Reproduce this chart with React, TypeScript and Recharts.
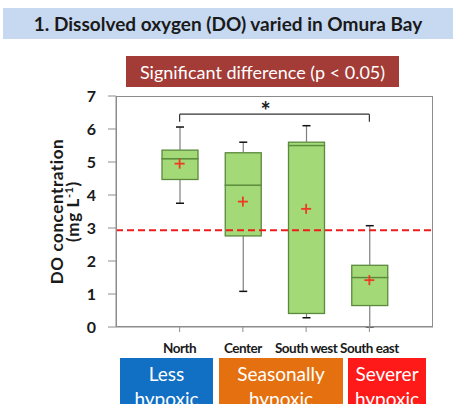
import React from 'react';
import { ComposedChart, Bar, Scatter, XAxis, YAxis, ReferenceLine } from 'recharts';

const sites = ['North', 'Center', 'South west', 'South east'];
const whiskerLow = [3.75, 1.08, 0.28, 0];
const q1 = [4.47, 2.76, 0.41, 0.65];
const median = [5.1, 4.3, 5.5, 1.5];
const q3 = [5.36, 5.28, 5.6, 1.87];
const whiskerHigh = [6.06, 5.6, 6.1, 3.07];
const means = [4.95, 3.8, 3.58, 1.42];
const yTicks = [0, 1, 2, 3, 4, 5, 6, 7];
const threshold = 2.93;
const bracketY = 6.45;
const bracketDrop = 6.22;
const zoneLabels = [['Less', 'hypoxic'], ['Seasonally', 'hypoxic'], ['Severer', 'hypoxic']];

const data = sites.map((name, i) => ({
  name,
  base: whiskerLow[i],
  lowW: q1[i] - whiskerLow[i],
  lowBox: median[i] - q1[i],
  highBox: q3[i] - median[i],
  highW: whiskerHigh[i] - q3[i],
  mean: means[i],
}));

const FONT = 'Lato, "Open Sans", sans-serif';
const BOX_FILL = '#a3d977';
const BOX_STROKE = '#5b8a3c';

const Whisker = (props: any) => {
  const { x, y, width, height, end } = props;
  const cx = x + width / 2;
  const capY = end === 'bottom' ? y + height : y;
  return (
    <g>
      <line x1={cx} x2={cx} y1={y} y2={y + height} stroke="#7f7f7f" strokeWidth={1.2} />
      <line x1={cx - 4} x2={cx + 4} y1={capY} y2={capY} stroke="#111" strokeWidth={1.5} />
    </g>
  );
};

const BoxPart = (props: any) => {
  const { x, y, width, height } = props;
  return <rect x={x} y={y} width={width} height={height} fill={BOX_FILL} stroke={BOX_STROKE} strokeWidth={1.3} />;
};

const MeanMark = (props: any) => {
  const { cx, cy } = props;
  return (
    <g stroke="#ee3b24" strokeWidth={1.8}>
      <line x1={cx - 5} x2={cx + 5} y1={cy} y2={cy} />
      <line x1={cx} x2={cx} y1={cy - 5} y2={cy + 5} />
    </g>
  );
};

const YLabel = (props: any) => {
  const vb = props.viewBox || { y: 96, height: 231 };
  const cy = vb.y + vb.height / 2;
  return (
    <g fontFamily={FONT} fontWeight={700} fontSize={17} fill="#1a1a1a" textAnchor="middle" letterSpacing={0.6}>
      <text x={63} y={cy} transform={`rotate(-90 63 ${cy})`}>DO concentration</text>
      <text x={79} y={cy} transform={`rotate(-90 79 ${cy})`}>
        (mg L<tspan dy={-6} fontSize={11}>-1</tspan><tspan dy={6}>)</tspan>
      </text>
    </g>
  );
};

const Star = (props: any) => {
  const vb = props.viewBox || { x: 0, y: 0, width: 0 };
  return (
    <text x={vb.x + vb.width / 2 - 9} y={vb.y + 6} textAnchor="middle" fontFamily={FONT} fontWeight={700} fontSize={24} fill="#222">
      *
    </text>
  );
};

const zoneBoxes = [
  { left: 120, width: 93, color: '#1170c4' },
  { left: 219, width: 124, color: '#e5700f' },
  { left: 348, width: 78, color: '#ff1a1a' },
];

export default function App() {
  return (
    <div style={{ position: 'absolute', left: 0, top: 0, width: 453, height: 404, overflow: 'hidden', background: '#fff', fontFamily: FONT }}>
      <div style={{ position: 'absolute', left: 3, top: 8, width: 450, height: 31, background: '#c6d9f1', display: 'flex', alignItems: 'center', justifyContent: 'center', fontWeight: 700, fontSize: 19, color: '#1a1a1a' }}>
        1. Dissolved oxygen (DO) varied in Omura Bay
      </div>
      <div style={{ position: 'absolute', left: 126, top: 56, width: 273, height: 31, background: '#a33b36', display: 'flex', alignItems: 'center', justifyContent: 'center', fontSize: 18, color: '#fff' }}>
        Significant difference (p &lt; 0.05)
      </div>
      <div style={{ position: 'absolute', left: 0, top: 0 }}>
        <ComposedChart width={453} height={404} data={data} margin={{ top: 96, right: 20, bottom: 47, left: 0 }} barSize={36} barGap={0}>
          <XAxis
            dataKey="name"
            type="category"
            padding={{ left: 32, right: 32 }}
            height={30}
            stroke="#8c8c8c"
            tickSize={5}
            tickMargin={11}
            interval={0}
            tick={{ fontFamily: FONT, fontWeight: 700, fontSize: 13.5, fill: '#1a1a1a', letterSpacing: -0.5 }}
          />
          <YAxis
            domain={[0, 7]}
            ticks={yTicks}
            width={116}
            stroke="#8c8c8c"
            tickSize={8}
            tickMargin={12}
            tick={{ fontFamily: FONT, fontWeight: 700, fontSize: 16, fill: '#1a1a1a' }}
            label={<YLabel />}
          />
          <Bar dataKey="base" stackId="box" fill="none" isAnimationActive={false} />
          <Bar dataKey="lowW" stackId="box" isAnimationActive={false} shape={(p: any) => <Whisker {...p} end="bottom" />} />
          <Bar dataKey="lowBox" stackId="box" isAnimationActive={false} shape={(p: any) => <BoxPart {...p} />} />
          <Bar dataKey="highBox" stackId="box" isAnimationActive={false} shape={(p: any) => <BoxPart {...p} />} />
          <Bar dataKey="highW" stackId="box" isAnimationActive={false} shape={(p: any) => <Whisker {...p} end="top" />} />
          <ReferenceLine y={threshold} stroke="#ee1c1c" strokeWidth={2} strokeDasharray="7 4" />
          <ReferenceLine segment={[{ x: 'North', y: bracketY }, { x: 'South east', y: bracketY }]} stroke="#333" strokeWidth={1.2} label={<Star />} />
          <ReferenceLine segment={[{ x: 'North', y: bracketY }, { x: 'North', y: bracketDrop }]} stroke="#333" strokeWidth={1.2} />
          <ReferenceLine segment={[{ x: 'South east', y: bracketY }, { x: 'South east', y: bracketDrop }]} stroke="#333" strokeWidth={1.2} />
          <Scatter dataKey="mean" isAnimationActive={false} shape={(p: any) => <MeanMark {...p} />} />
        </ComposedChart>
      </div>
      <div style={{ position: 'absolute', left: 116, top: 96, width: 317, height: 231, boxSizing: 'border-box', border: '1px solid #8c8c8c', pointerEvents: 'none' }} />
      {zoneBoxes.map((z, i) => (
        <div key={i} style={{ position: 'absolute', left: z.left, top: 358, width: z.width, height: 60, background: z.color, color: '#fff', fontSize: 19, lineHeight: '25px', textAlign: 'center', paddingTop: 3 }}>
          {zoneLabels[i][0]}
          <br />
          {zoneLabels[i][1]}
        </div>
      ))}
    </div>
  );
}
